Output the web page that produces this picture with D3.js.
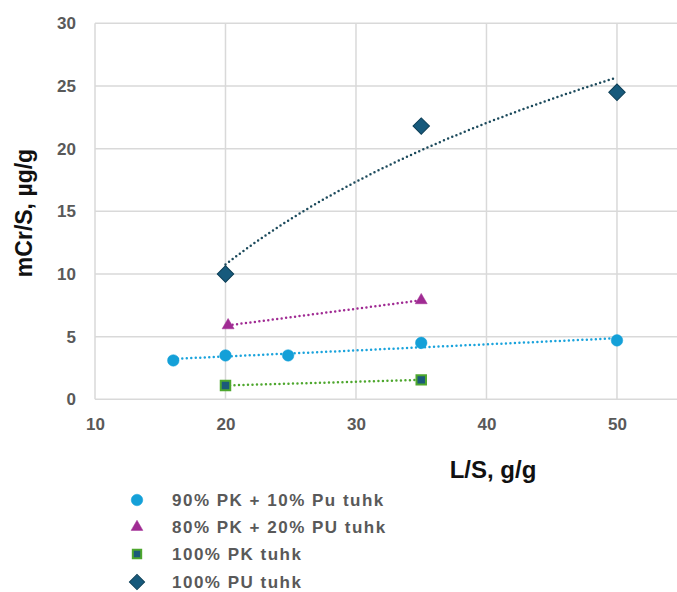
<html>
  <head>
    <meta charset="utf-8"/>
    <style>
      body { margin: 0; background: white; }
      text { font-family: "Liberation Sans", Arial, sans-serif; }
      .tick text { font-size: 17px; font-weight: bold; fill: #595959; }
      .grid line { stroke: #d9d9d9; stroke-width: 1.5; }
    </style>
    <script src="https://d3js.org/d3.v7.min.js"></script>
  </head>
  <body>
    <script>
    // data
    var seriesNames = ["90% PK + 10% Pu tuhk", "80% PK + 20% PU tuhk", "100% PK tuhk", "100% PU tuhk"];
    var circleX = [16, 20, 24.8, 35, 50];
    var circleY = [3.1, 3.5, 3.5, 4.5, 4.7];
    var triangleX = [20.2, 35];
    var triangleY = [5.9, 7.9];
    var squareX = [20, 35];
    var squareY = [1.1, 1.55];
    var diamondX = [20, 35, 50];
    var diamondY = [10, 21.8, 24.5];
    var xTicks = [10, 20, 30, 40, 50];
    var yTicks = [0, 5, 10, 15, 20, 25, 30];

    var width = 677, height = 592;
    var svg = d3.select("body").append("svg").attr("width", width).attr("height", height);

    var x = d3.scaleLinear().domain([10, 54.6]).range([95, 677]);
    var y = d3.scaleLinear().domain([0, 30]).range([399.3, 23.3]);

    // grid
    svg.append("g").attr("class", "grid")
      .selectAll("line.h").data(yTicks).enter().append("line")
      .attr("x1", x(10)).attr("x2", 677).attr("y1", d => y(d)).attr("y2", d => y(d));
    svg.append("g").attr("class", "grid")
      .selectAll("line.v").data(xTicks).enter().append("line")
      .attr("x1", d => x(d)).attr("x2", d => x(d)).attr("y1", y(0)).attr("y2", y(30));

    // axes (labels only; lines come from grid)
    var yAxis = svg.append("g").attr("transform", "translate(" + x(10) + ",0)")
      .call(d3.axisLeft(y).tickValues(yTicks).tickSize(0).tickPadding(19));
    yAxis.select(".domain").remove();
    var xAxis = svg.append("g").attr("transform", "translate(0," + y(0) + ")")
      .call(d3.axisBottom(x).tickValues(xTicks).tickSize(0).tickPadding(19));
    xAxis.select(".domain").remove();

    svg.append("text").attr("transform", "translate(32,213) rotate(-90)")
      .attr("text-anchor", "middle").attr("font-size", 23).attr("font-weight", "bold")
      .attr("fill", "#111").text("mCr/S, µg/g");
    svg.append("text").attr("x", 493).attr("y", 478)
      .attr("text-anchor", "middle").attr("font-size", 24).attr("font-weight", "bold")
      .attr("fill", "#111").text("L/S, g/g");

    function linFit(xs, ys) {
      var mx = d3.mean(xs), my = d3.mean(ys), sxy = 0, sxx = 0;
      xs.forEach((v, i) => { sxy += (v - mx) * (ys[i] - my); sxx += (v - mx) * (v - mx); });
      var b = sxy / sxx;
      return v => my + b * (v - mx);
    }
    function logFit(xs, ys) {
      var f = linFit(xs.map(Math.log), ys);
      return v => f(Math.log(v));
    }

    function trend(xs, ys, fit, color) {
      var f = fit(xs, ys);
      var lo = d3.min(xs), hi = d3.max(xs);
      var pts = d3.range(0, 41).map(i => lo + (hi - lo) * i / 40);
      svg.append("path")
        .attr("d", d3.line().x(d => x(d)).y(d => y(f(d)))(pts))
        .attr("fill", "none").attr("stroke", color).attr("stroke-width", 2.5)
        .attr("stroke-linecap", "round").attr("stroke-dasharray", "0 4.5");
    }

    trend(circleX, circleY, linFit, "#1aa3dc");
    trend(triangleX, triangleY, linFit, "#a02b93");
    trend(squareX, squareY, linFit, "#4ea72e");
    trend(diamondX, diamondY, logFit, "#1c4a5c");

    var sym = {
      circle: d3.symbol().type(d3.symbolCircle).size(105),
      triangle: d3.symbol().type(d3.symbolTriangle).size(62),
      square: d3.symbol().type(d3.symbolSquare).size(90),
      diamond: d3.symbol().type(d3.symbolSquare).size(135)
    };
    function marks(xs, ys, kind, fill, stroke, sw, rot) {
      svg.append("g").selectAll("path").data(xs).enter().append("path")
        .attr("d", sym[kind]())
        .attr("transform", (d, i) => "translate(" + x(d) + "," + y(ys[i]) + ")" + (rot ? " rotate(45)" : ""))
        .attr("fill", fill).attr("stroke", stroke).attr("stroke-width", sw);
    }
    marks(circleX, circleY, "circle", "#14a0d8", "#14a0d8", 0.5);
    marks(triangleX, triangleY, "triangle", "#a02b93", "#a02b93", 0.5);
    marks(squareX, squareY, "square", "#1b5a7a", "#4ea72e", 2);
    marks(diamondX, diamondY, "diamond", "#175a7c", "#0d3f57", 1, true);

    // legend
    var legendY = [500, 527, 554, 582];
    var legendMarks = [
      {kind: "circle", fill: "#14a0d8", stroke: "#14a0d8", sw: 0.5, size: 105},
      {kind: "triangle", fill: "#a02b93", stroke: "#a02b93", sw: 0.5, size: 60},
      {kind: "square", fill: "#1b5a7a", stroke: "#4ea72e", sw: 2, size: 70},
      {kind: "diamond", fill: "#175a7c", stroke: "#0d3f57", sw: 1, size: 115}
    ];
    var lg = svg.append("g").selectAll("g").data(seriesNames).enter().append("g")
      .attr("transform", (d, i) => "translate(0," + legendY[i] + ")");
    lg.append("path")
      .attr("d", (d, i) => {
        var m = legendMarks[i];
        var t = m.kind === "diamond" || m.kind === "square" ? d3.symbolSquare :
                m.kind === "triangle" ? d3.symbolTriangle : d3.symbolCircle;
        return d3.symbol().type(t).size(m.size)();
      })
      .attr("transform", (d, i) => "translate(137,0)" + (legendMarks[i].kind === "diamond" ? " rotate(45)" : ""))
      .attr("fill", (d, i) => legendMarks[i].fill)
      .attr("stroke", (d, i) => legendMarks[i].stroke)
      .attr("stroke-width", (d, i) => legendMarks[i].sw);
    lg.append("text").attr("x", 172).attr("dy", "0.35em")
      .attr("font-size", 17).attr("font-weight", "bold").attr("fill", "#595959")
      .attr("letter-spacing", 1.5).text(d => d);
    </script>
  </body>
</html>
